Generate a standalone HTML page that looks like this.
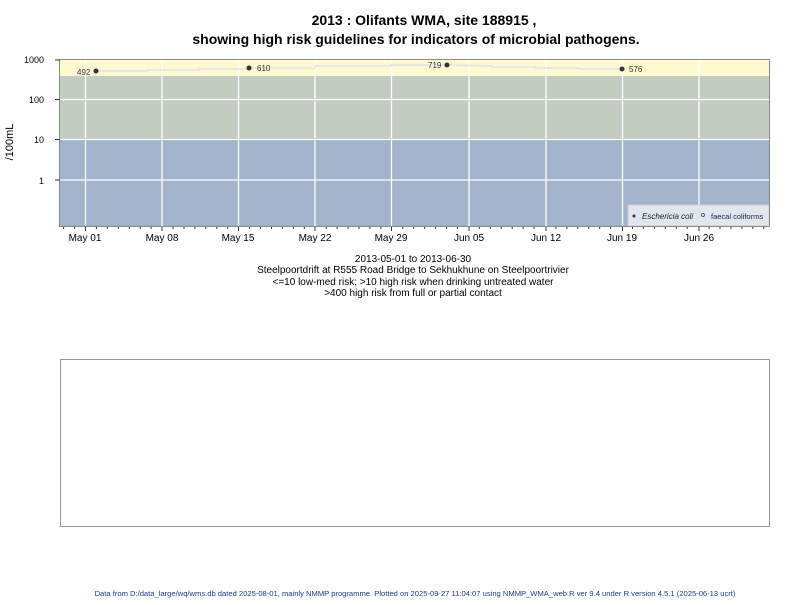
<!DOCTYPE html>
<html><head><style>
body{margin:0;background:#fff;width:800px;height:600px;overflow:hidden;font-family:"Liberation Sans",sans-serif}
</style></head><body>
<svg width="800" height="600" xmlns="http://www.w3.org/2000/svg" font-family="Liberation Sans, sans-serif">
<text x="424" y="25" font-size="14" font-weight="bold" text-anchor="middle">2013 : Olifants WMA, site 188915 ,</text>
<text x="416" y="44" font-size="14" font-weight="bold" text-anchor="middle">showing high risk guidelines for indicators of microbial pathogens.</text>
<rect x="60" y="59" width="709" height="17" fill="#fff9d0"/>
<rect x="60" y="76" width="709" height="63" fill="#c2ccc0"/>
<rect x="60" y="139" width="709" height="87" fill="#a2b3cb"/>
<g stroke="#fff" stroke-width="1.3">
<line x1="60" x2="769" y1="60" y2="60"/><line x1="60" x2="769" y1="99.5" y2="99.5"/>
<line x1="60" x2="769" y1="139.5" y2="139.5"/><line x1="60" x2="769" y1="180" y2="180"/>
<line x1="85.5" x2="85.5" y1="59" y2="226"/><line x1="162" x2="162" y1="59" y2="226"/>
<line x1="238.5" x2="238.5" y1="59" y2="226"/><line x1="315" x2="315" y1="59" y2="226"/>
<line x1="391.5" x2="391.5" y1="59" y2="226"/><line x1="469" x2="469" y1="59" y2="226"/>
<line x1="546" x2="546" y1="59" y2="226"/><line x1="622.5" x2="622.5" y1="59" y2="226"/>
<line x1="699" x2="699" y1="59" y2="226"/>
</g>
<polyline fill="none" stroke="#e6e6e6" stroke-width="2" points="96,71 147,71 147,70 199,70 199,69 249,69 249,68 315,68 315,66 391,66 391,65 447,65 491,66 491,67 535,67 535,68 578,68 578,69 622,69"/>
<g fill="#333"><circle cx="96" cy="71" r="2.5"/><circle cx="249" cy="68" r="2.5"/><circle cx="447" cy="65" r="2.5"/><circle cx="622" cy="69" r="2.5"/></g>
<g font-size="8" fill="#333"><text x="77" y="75">492</text><text x="257" y="71">610</text><text x="428" y="68">719</text><text x="629" y="72">576</text></g>
<rect x="628" y="205" width="141" height="21" fill="#e2e7ee" stroke="#ccc"/>
<circle cx="634" cy="216" r="1.5" fill="#333"/><text x="642" y="219" font-size="8" font-style="italic" fill="#222">Eschericia coli</text>
<circle cx="703" cy="215" r="1.5" fill="none" stroke="#333" stroke-width="0.7"/><text x="711" y="219" font-size="7.5" fill="#224">faecal coliforms</text>
<rect x="59.5" y="59.5" width="710" height="167" fill="none" stroke="#888"/>
<g stroke="#333"><line x1="55" x2="60" y1="60" y2="60"/><line x1="55" x2="60" y1="99.5" y2="99.5"/><line x1="55" x2="60" y1="139.5" y2="139.5"/><line x1="55" x2="60" y1="180" y2="180"/></g>
<path stroke="#333" stroke-width="1" fill="none" d="M63.6 227v2M74.6 227v2M96.4 227v2M107.4 227v2M118.3 227v2M129.3 227v2M140.2 227v2M151.1 227v2M173 227v2M184 227v2M194.9 227v2M205.8 227v2M216.8 227v2M227.7 227v2M249.6 227v2M260.5 227v2M271.5 227v2M282.4 227v2M293.4 227v2M304.3 227v2M326.2 227v2M337.1 227v2M348.1 227v2M359 227v2M369.9 227v2M380.9 227v2M402.8 227v2M413.7 227v2M424.6 227v2M435.6 227v2M446.5 227v2M457.5 227v2M479.3 227v2M490.3 227v2M501.2 227v2M512.2 227v2M523.1 227v2M534 227v2M555.9 227v2M566.9 227v2M577.8 227v2M588.7 227v2M599.7 227v2M610.6 227v2M632.5 227v2M643.4 227v2M654.4 227v2M665.3 227v2M676.3 227v2M687.2 227v2M709.1 227v2M720 227v2M731 227v2M741.9 227v2M752.8 227v2M763.8 227v2"/>
<path stroke="#333" stroke-width="1" fill="none" d="M85.5 227v4M162 227v4M238.5 227v4M315 227v4M391.5 227v4M469 227v4M546 227v4M622.5 227v4M699 227v4"/>
<g font-size="9" text-anchor="end"><text x="44" y="63">1000</text><text x="44" y="103">100</text><text x="44" y="143">10</text><text x="44" y="184">1</text></g>
<text transform="translate(13,142) rotate(-90)" font-size="11" text-anchor="middle">/100mL</text>
<g font-size="10" text-anchor="middle"><text x="85" y="241">May 01</text><text x="162" y="241">May 08</text><text x="238" y="241">May 15</text><text x="315" y="241">May 22</text><text x="391" y="241">May 29</text><text x="469" y="241">Jun 05</text><text x="546" y="241">Jun 12</text><text x="622" y="241">Jun 19</text><text x="699" y="241">Jun 26</text></g>
<g font-size="10" text-anchor="middle"><text x="413" y="262">2013-05-01 to 2013-06-30</text><text x="413" y="273">Steelpoortdrift at R555 Road Bridge to Sekhukhune on Steelpoortrivier</text><text x="413" y="285">&lt;=10 low-med risk; &gt;10 high risk when drinking untreated water</text><text x="413" y="296">&gt;400 high risk from full or partial contact</text></g>
<rect x="60.5" y="359.5" width="709" height="167" fill="none" stroke="#999"/>
<text x="415" y="596" font-size="7.6" fill="#1a3c8c" text-anchor="middle">Data from D:/data_large/wq/wms.db dated 2025-08-01, mainly NMMP programme. Plotted on 2025-09-27 11:04:07 using NMMP_WMA_web.R ver 9.4 under R version 4.5.1 (2025-06-13 ucrt)</text>
</svg>
</body></html>
